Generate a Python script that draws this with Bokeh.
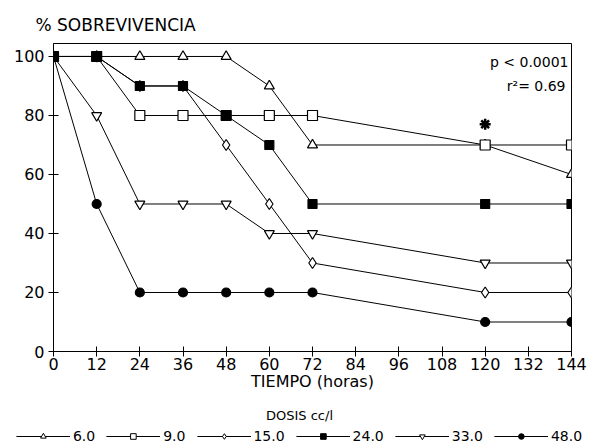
from bokeh.plotting import figure
from bokeh.layouts import column, row
from bokeh.models import Legend, LegendItem, Title, Label, Range1d, FixedTicker
from bokeh.embed import file_html
from bokeh.resources import INLINE

tiempo = [0, 12, 24, 36, 48, 60, 72, 120, 144]
dosis_labels = ["6.0", "9.0", "15.0", "24.0", "33.0", "48.0"]
s_6 = [100, 100, 100, 100, 100, 90, 70, 70, 60]
s_9 = [100, 100, 80, 80, 80, 80, 80, 70, 70]
s_15 = [100, 100, 90, 90, 70, 50, 30, 20, 20]
s_24 = [100, 100, 90, 90, 80, 70, 50, 50, 50]
s_33 = [100, 80, 50, 50, 50, 40, 40, 30, 30]
s_48 = [100, 50, 20, 20, 20, 20, 20, 10, 10]
star_x = [120]
star_y = [77]
x_ticks = [0, 12, 24, 36, 48, 60, 72, 84, 96, 108, 120, 132, 144]
y_ticks = [0, 20, 40, 60, 80, 100]

FONT = "DejaVu Sans"

p = figure(width=598, height=400, output_backend="svg", toolbar_location=None,
           x_range=Range1d(0, 144), y_range=Range1d(0, 104.4),
           min_border_left=53, min_border_right=27, min_border_top=43, min_border_bottom=49)
p.background_fill_color = "white"
p.border_fill_color = "white"
p.outline_line_color = "black"
p.outline_line_width = 1
p.xgrid.visible = False
p.ygrid.visible = False

for ax, ticks in ((p.xaxis, x_ticks), (p.yaxis, y_ticks)):
    ax.ticker = FixedTicker(ticks=ticks)
    ax.minor_tick_line_color = None
    ax.major_tick_in = 5
    ax.major_tick_out = 5
    ax.axis_line_color = "black"
    ax.major_tick_line_color = "black"
    ax.major_label_text_font = FONT
    ax.major_label_text_font_size = "16px"
    ax.major_label_text_color = "black"
    ax.axis_label_text_font = FONT
    ax.axis_label_text_font_style = "normal"
    ax.axis_label_text_color = "black"

p.xaxis.axis_label = "TIEMPO (horas)"
p.xaxis.axis_label_text_font_size = "16px"
p.xaxis.axis_label_standoff = -1
p.xaxis.major_label_standoff = 1
p.yaxis.major_label_standoff = 4

p.add_layout(Title(text="% SOBREVIVENCIA", align="left", offset=-18,
                   text_font=FONT, text_font_size="17px", text_font_style="normal",
                   text_color="black", standoff=18), "above")

series = [s_6, s_9, s_15, s_24, s_33, s_48]
markers = ["triangle", "square", "diamond", "square", "inverted_triangle", "circle"]
fills = ["white", "white", "white", "black", "white", "black"]
sizes = [10, 10, 11, 9, 10, 9]
order = [0, 1, 2, 4, 5, 3]

for i in order:
    ys = series[i]
    p.line(tiempo, ys, line_color="black", line_width=1)
    p.scatter(tiempo, ys, marker=markers[i], size=sizes[i], fill_color=fills[i],
              line_color="black", line_width=1.2)

p.scatter(star_x, star_y, marker="asterisk", size=11, line_color="black", line_width=2.5)

p.add_layout(Label(x=144, y=98, text="p < 0.0001", text_font=FONT, text_font_size="14px",
                   text_align="right", text_baseline="middle", x_offset=-3, text_color="black"))
p.add_layout(Label(x=144, y=90, text="r²= 0.69", text_font=FONT, text_font_size="14px",
                   text_align="right", text_baseline="middle", x_offset=-6, text_color="black"))

# legend strip below the chart
q = figure(width=598, height=48, output_backend="svg", toolbar_location=None,
           x_range=Range1d(0, 598), y_range=Range1d(1000, 1048),
           x_axis_type=None, y_axis_type=None,
           min_border_left=0, min_border_right=0, min_border_top=24, min_border_bottom=0)
q.outline_line_color = None
q.background_fill_color = "white"
q.border_fill_color = "white"
q.xgrid.visible = False
q.ygrid.visible = False
q.add_layout(Title(text="DOSIS cc/l", align="center", text_font=FONT,
                   text_font_size="13px", text_font_style="normal", text_color="black",
                   standoff=4), "above")

items = []
for i in range(6):
    ys = series[i]
    l = q.line(tiempo, ys, line_color="black", line_width=1)
    m = q.scatter(tiempo, ys, marker=markers[i], size=8, fill_color=fills[i],
                  line_color="black", line_width=1)
    items.append(LegendItem(label=dosis_labels[i], renderers=[l, m]))

legend = Legend(items=items, orientation="horizontal", location="center",
                label_text_font=FONT, label_text_font_size="14px", label_text_color="black",
                glyph_width=54, glyph_height=14, label_standoff=3, spacing=11,
                label_height=14, padding=0, margin=0, border_line_color=None,
                background_fill_alpha=0)
q.add_layout(legend, "center")

layout = column(p, row(q), spacing=0)
open("out.html", "w").write(file_html(layout, INLINE))
